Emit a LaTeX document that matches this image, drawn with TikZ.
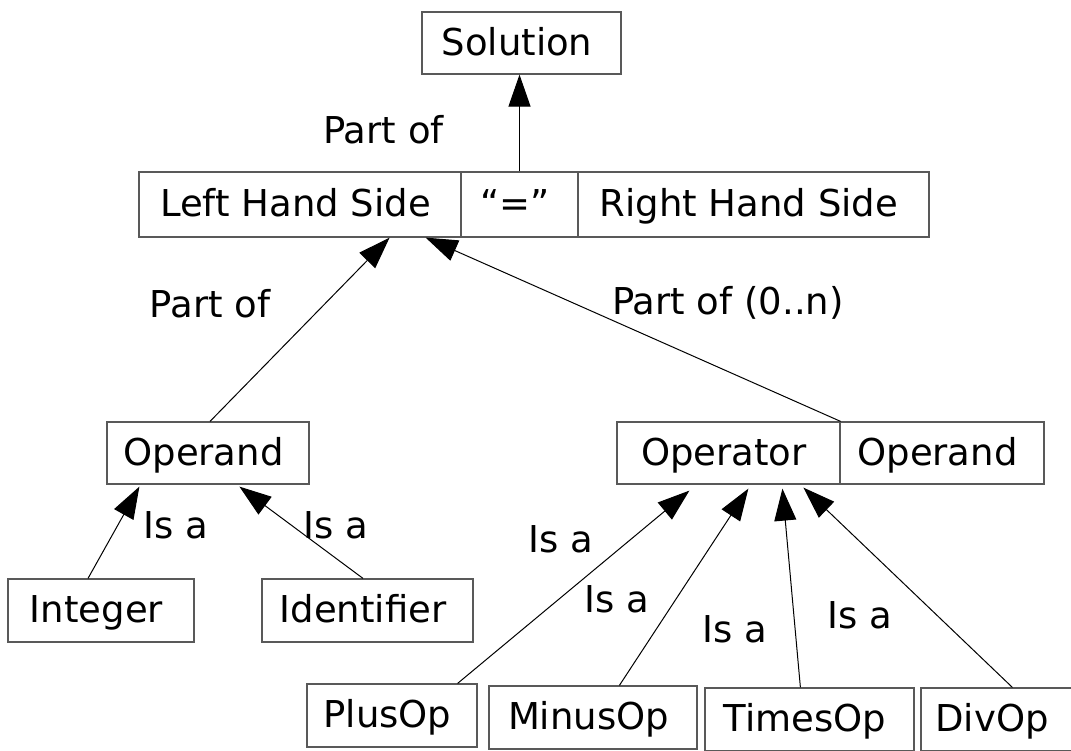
\documentclass[tikz,border=0pt]{standalone}
\usepackage{fontspec}
\setmainfont{DejaVu Sans}
\usetikzlibrary{arrows.meta,calc}
\begin{document}
\begin{tikzpicture}[x=0.5pt,y=-0.5pt,
  txt/.style={font=\fontsize{18.5}{22}\selectfont},
  box/.style={txt, draw=black!65, line width=0.6pt, inner sep=0pt,
    text height=13.5pt, text depth=1.5pt,
    execute at end node={\kern4.5pt}},
  wh/.style 2 args={minimum width={#1*0.5pt}, minimum height={#2*0.5pt}},
  lbl/.style={txt, anchor=base, inner sep=0pt},
  link/.style={draw=black, line width=0.5pt,
    -{Triangle[length=16pt,width=11pt]}}]
\useasboundingbox (0,0) rectangle (1071,750);

% grammar elements
\node[box, wh={199}{62}] (sol) at (521.5,43) {Solution};

\node[box, wh={322}{65}] (lhs) at (300,204.5) {Left Hand Side};
\node[box, wh={117}{65}] (eq)  at (519.5,204.5) {“=”};
\node[box, wh={351}{65}] (rhs) at (753.5,204.5) {Right Hand Side};

\node[box, wh={202}{62}] (opnd)  at (208,453) {Operand};
\node[box, wh={223}{62}] (optr)  at (728.5,453) {Operator};
\node[box, wh={204}{62}] (opnd2) at (942,453) {Operand};

\node[box, wh={186}{63}] (int)   at (101,610.5) {Integer};
\node[box, wh={211}{63}] (ident) at (367.5,610.5) {Identifier};

\node[box, wh={170}{63}] (plus)  at (392,715.5) {PlusOp};
\node[box, wh={208}{63}] (minus) at (593,717.5) {MinusOp};
\node[box, wh={209}{63}] (times) at (809.5,719.5) {TimesOp};
\node[box, wh={151}{63}] (div)   at (996.5,719.5) {DivOp};

% part-of relations
\draw[link] (eq.north) -- (eq.north |- sol.south);
\draw[link] ($(opnd.north)+(2,0)$) -- ($(lhs.south east)+(-72,0)$);
\draw[link] (optr.north east) -- ($(lhs.south east)+(-36,0)$);

% is-a relations
\draw[link] ($(int.north)+(-13,0)$) -- ($(opnd.south west)+(33,2)$);
\draw[link] ($(ident.north)+(-4.5,0)$) -- ($(opnd.south west)+(133,2)$);

\draw[link] ($(plus.north east)+(-20,0)$) -- ($(optr.south west)+(73,6)$);
\draw[link] ($(minus.north west)+(131,0)$) -- ($(optr.south west)+(132,4)$);
\draw[link] ($(times.north west)+(96,0)$) -- ($(optr.south west)+(166,4)$);
\draw[link] ($(div.north west)+(92,0)$) -- ($(optr.south west)+(187,3)$);

% relation labels
\node[lbl] (l0) at (383.5,143) {Part of};
\node[lbl] (l1) at (210,317) {Part of};
\node[lbl] (l2) at (728,314) {Part of (0..n)};
\node[lbl] (l3) at (176,538) {Is a};
\node[lbl] (l4) at (336,538) {Is a};
\node[lbl] (l5) at (561,552) {Is a};
\node[lbl] (l6) at (617,612) {Is a};
\node[lbl] (l7) at (735,642) {Is a};
\node[lbl] (l8) at (860,628) {Is a};
\end{tikzpicture}
\end{document}
